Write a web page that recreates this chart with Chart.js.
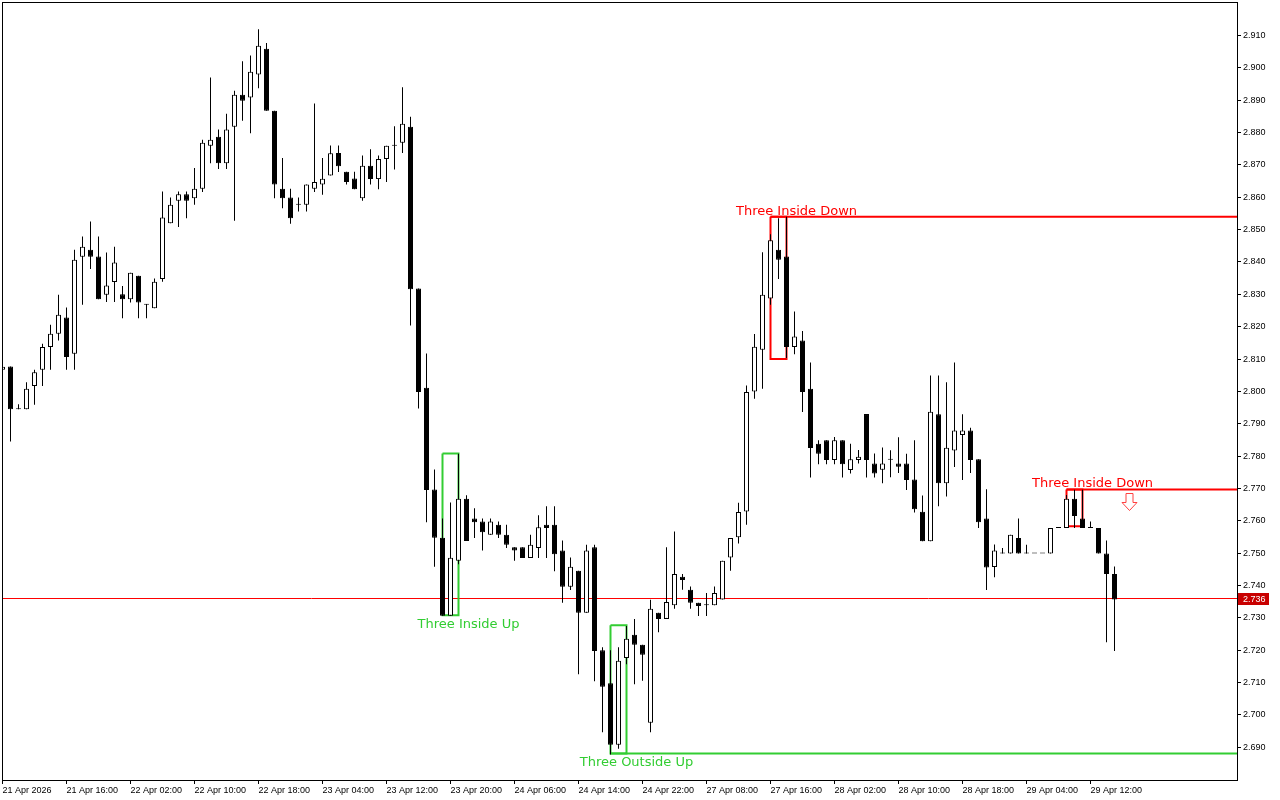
<!DOCTYPE html>
<html>
<head>
<meta charset="utf-8">
<title>H1 candlestick chart</title>
<script src="https://cdn.jsdelivr.net/npm/chart.js@4.4.1/dist/chart.umd.min.js"></script>
<style>
  html, body { margin: 0; padding: 0; background: #fff; }
  #chart { display: block; }
</style>
</head>
<body>
<canvas id="chart" width="1280" height="800"></canvas>
<script>
(function() {
    'use strict';

    // Hourly bars, index 0 = 21 Apr 2026 08:00
    const openPrices = [
        2.8067, 2.8077, 2.7945, 2.7945, 2.8017, 2.8067, 2.8137, 2.8178, 2.8228, 2.8116,
        2.8416, 2.8438, 2.8417, 2.8299, 2.8338, 2.8300, 2.8285, 2.8357, 2.8268, 2.8257,
        2.8347, 2.8520, 2.8589, 2.8609, 2.8597, 2.8626, 2.8759, 2.8787, 2.8705, 2.8818,
        2.8917, 2.8908, 2.8979, 2.9059, 2.8867, 2.8626, 2.8599, 2.8577, 2.8577, 2.8626,
        2.8639, 2.8667, 2.8737, 2.8679, 2.8658, 2.8597, 2.8697, 2.8656, 2.8718, 2.8759,
        2.8768, 2.8818, 2.8318, 2.8011, 2.7697, 2.7548, 2.7307, 2.7477, 2.7668, 2.7607,
        2.7598, 2.7557, 2.7588, 2.7557, 2.7518, 2.7518, 2.7485, 2.7516, 2.7588, 2.7588,
        2.7508, 2.7396, 2.7446, 2.7316, 2.7518, 2.7200, 2.7098, 2.6908, 2.7176, 2.7248,
        2.7217, 2.6976, 2.7316, 2.7297, 2.7339, 2.7427, 2.7387, 2.7347, 2.7339, 2.7339,
        2.7357, 2.7487, 2.7549, 2.7629, 2.8000, 2.8129, 2.8287, 2.8438, 2.8417, 2.8137,
        2.8157, 2.8008, 2.7838, 2.7849, 2.7788, 2.7849, 2.7757, 2.7788, 2.7930, 2.7777,
        2.7758, 2.7789, 2.7777, 2.7777, 2.7728, 2.7628, 2.7537, 2.7929, 2.7716, 2.7817,
        2.7865, 2.7879, 2.7790, 2.7607, 2.7457, 2.7499, 2.7499, 2.7547, 2.7499, 2.7499,
        2.7499, 2.7499, 2.7578, 2.7578, 2.7668, 2.7607, 2.7578, 2.7578, 2.7499, 2.7436
    ];
    const highPrices = [
        2.8080, 2.8077, 2.7960, 2.8028, 2.8067, 2.8147, 2.8206, 2.8299, 2.8259, 2.8438,
        2.8479, 2.8525, 2.8479, 2.8429, 2.8447, 2.8326, 2.8367, 2.8357, 2.8270, 2.8349,
        2.8618, 2.8599, 2.8618, 2.8618, 2.8690, 2.8778, 2.8970, 2.8809, 2.8858, 2.8929,
        2.9020, 2.9038, 2.9119, 2.9077, 2.8867, 2.8721, 2.8626, 2.8599, 2.8639, 2.8890,
        2.8721, 2.8760, 2.8760, 2.8679, 2.8679, 2.8729, 2.8748, 2.8729, 2.8759, 2.8819,
        2.8940, 2.8849, 2.8318, 2.8117, 2.7759, 2.7607, 2.7657, 2.7807, 2.7679, 2.7639,
        2.7607, 2.7607, 2.7598, 2.7588, 2.7518, 2.7518, 2.7557, 2.7617, 2.7645, 2.7645,
        2.7539, 2.7487, 2.7446, 2.7526, 2.7526, 2.7209, 2.7200, 2.7209, 2.7275, 2.7297,
        2.7217, 2.7356, 2.7316, 2.7518, 2.7567, 2.7436, 2.7397, 2.7347, 2.7377, 2.7397,
        2.7477, 2.7547, 2.7656, 2.8018, 2.8177, 2.8430, 2.8486, 2.8535, 2.8540, 2.8247,
        2.8187, 2.8089, 2.7849, 2.7849, 2.7859, 2.7849, 2.7838, 2.7819, 2.7930, 2.7808,
        2.7827, 2.7818, 2.7858, 2.7807, 2.7849, 2.7678, 2.8049, 2.8049, 2.8028, 2.8089,
        2.7929, 2.7888, 2.7790, 2.7698, 2.7527, 2.7516, 2.7557, 2.7607, 2.7526, 2.7499,
        2.7499, 2.7578, 2.7578, 2.7680, 2.7696, 2.7696, 2.7598, 2.7578, 2.7539, 2.7459
    ];
    const lowPrices = [
        2.8060, 2.7845, 2.7945, 2.7945, 2.7959, 2.8017, 2.8067, 2.8157, 2.8067, 2.8067,
        2.8268, 2.8378, 2.8285, 2.8276, 2.8276, 2.8226, 2.8275, 2.8226, 2.8226, 2.8257,
        2.8339, 2.8520, 2.8508, 2.8535, 2.8577, 2.8616, 2.8705, 2.8687, 2.8687, 2.8527,
        2.8836, 2.8798, 2.8937, 2.8867, 2.8597, 2.8566, 2.8518, 2.8556, 2.8556, 2.8616,
        2.8608, 2.8667, 2.8678, 2.8639, 2.8625, 2.8589, 2.8639, 2.8625, 2.8647, 2.8686,
        2.8737, 2.8204, 2.7947, 2.7596, 2.7458, 2.7307, 2.7307, 2.7466, 2.7538, 2.7547,
        2.7508, 2.7557, 2.7547, 2.7516, 2.7477, 2.7485, 2.7485, 2.7485, 2.7485, 2.7444,
        2.7347, 2.7386, 2.7126, 2.7316, 2.7104, 2.6947, 2.6878, 2.6896, 2.7157, 2.7095,
        2.7106, 2.6947, 2.7256, 2.7297, 2.7328, 2.7387, 2.7328, 2.7306, 2.7306, 2.7339,
        2.7357, 2.7446, 2.7530, 2.7588, 2.7977, 2.8008, 2.8268, 2.8347, 2.8103, 2.8115,
        2.7936, 2.7734, 2.7775, 2.7775, 2.7775, 2.7734, 2.7746, 2.7777, 2.7734, 2.7734,
        2.7716, 2.7735, 2.7748, 2.7695, 2.7626, 2.7537, 2.7537, 2.7645, 2.7675, 2.7766,
        2.7726, 2.7748, 2.7578, 2.7386, 2.7426, 2.7499, 2.7499, 2.7499, 2.7499, 2.7499,
        2.7499, 2.7499, 2.7578, 2.7578, 2.7578, 2.7578, 2.7578, 2.7499, 2.7225, 2.7198
    ];
    const closePrices = [
        2.8076, 2.7945, 2.7945, 2.8008, 2.8059, 2.8137, 2.8178, 2.8237, 2.8106, 2.8407,
        2.8447, 2.8416, 2.8285, 2.8327, 2.8398, 2.8285, 2.8367, 2.8275, 2.8268, 2.8339,
        2.8537, 2.8577, 2.8609, 2.8589, 2.8626, 2.8768, 2.8778, 2.8705, 2.8809, 2.8917,
        2.8898, 2.8988, 2.9068, 2.8867, 2.8639, 2.8597, 2.8535, 2.8577, 2.8639, 2.8647,
        2.8657, 2.8736, 2.8696, 2.8647, 2.8625, 2.8697, 2.8656, 2.8718, 2.8759, 2.8759,
        2.8827, 2.8316, 2.7998, 2.7695, 2.7548, 2.7307, 2.7486, 2.7668, 2.7538, 2.7596,
        2.7565, 2.7598, 2.7557, 2.7526, 2.7508, 2.7485, 2.7526, 2.7580, 2.7578, 2.7497,
        2.7396, 2.7458, 2.7316, 2.7508, 2.7198, 2.7087, 2.6908, 2.7168, 2.7236, 2.7217,
        2.7186, 2.7328, 2.7297, 2.7349, 2.7436, 2.7417, 2.7347, 2.7337, 2.7339, 2.7377,
        2.7477, 2.7547, 2.7627, 2.7998, 2.8138, 2.8299, 2.8467, 2.8407, 2.8137, 2.8170,
        2.7998, 2.7825, 2.7807, 2.7788, 2.7849, 2.7775, 2.7790, 2.7798, 2.7788, 2.7746,
        2.7777, 2.7789, 2.7767, 2.7726, 2.7636, 2.7537, 2.7937, 2.7716, 2.7826, 2.7879,
        2.7879, 2.7788, 2.7596, 2.7456, 2.7508, 2.7499, 2.7557, 2.7499, 2.7499, 2.7499,
        2.7499, 2.7578, 2.7578, 2.7668, 2.7615, 2.7578, 2.7578, 2.7499, 2.7436, 2.7357
    ];

    // Time axis labels, one every 8 bars
    const xTickIndex = [0, 8, 16, 24, 32, 40, 48, 56, 64, 72, 80, 88, 96, 104, 112, 120, 128, 136];
    const xTickLabels = [
        '21 Apr 2026', '21 Apr 16:00', '22 Apr 02:00', '22 Apr 10:00', '22 Apr 18:00',
        '23 Apr 04:00', '23 Apr 12:00', '23 Apr 20:00', '24 Apr 06:00', '24 Apr 14:00',
        '24 Apr 22:00', '27 Apr 08:00', '27 Apr 16:00', '28 Apr 02:00', '28 Apr 10:00',
        '28 Apr 18:00', '29 Apr 04:00', '29 Apr 12:00'
    ];

    // Price axis labels
    const yTickValues = [];
    for (let i = 0; i <= 22; i++) {
        yTickValues.push((2690 + i * 10) / 1000);
    }

    // Candle patterns
    const patternNames = ['Three Inside Down', 'Three Inside Up', 'Three Outside Up', 'Three Inside Down'];
    const patternFirst = [96, 55, 76, 133];
    const patternLast = [98, 57, 78, 135];
    const patternHigh = [2.854, 2.7808, 2.7277, 2.7697];
    const patternLow = [2.810, 2.7308, 2.6881, 2.7583];
    const patternBullish = [false, true, true, false];
    const patternHasLevel = [true, false, true, true];

    // Sell signal arrow and last price
    const arrowIndex = [140.8];
    const arrowPrice = [2.7685];
    const currentPrice = 2.736;

    const X_MIN = 0.0625;
    const X_MAX = 154.3125;
    const Y_MIN = 2.679913;
    const Y_MAX = 2.920024;

    const RED = '#ff0000';
    const GREEN = '#32cd32';
    const AXIS_FONT = { family: 'Liberation Sans', size: 9 };

    const bodies = [];
    const wicks = [];
    const bodyColors = [];
    for (let i = 0; i < openPrices.length; i++) {
        bodies.push({ x: i, y: [openPrices[i], closePrices[i]] });
        wicks.push({ x: i, y: [lowPrices[i], highPrices[i]] });
        bodyColors.push(closePrices[i] > openPrices[i] ? '#ffffff' : '#000000');
    }

    /**
     * Line datasets for the pattern boxes and their level lines
     */
    function patternDatasets() {
        const sets = [];
        for (let i = 0; i < patternNames.length; i++) {
            const color = patternBullish[i] ? GREEN : RED;
            const a = patternFirst[i];
            const b = patternLast[i];
            const hi = patternHigh[i];
            const lo = patternLow[i];
            sets.push({
                type: 'line',
                data: [{ x: a, y: hi }, { x: a, y: lo }, { x: b, y: lo }, { x: b, y: hi }, { x: a, y: hi }],
                borderColor: color,
                borderWidth: 2,
                pointRadius: 0,
                tension: 0,
                fill: false,
                order: 3
            });
            if (patternHasLevel[i]) {
                const level = patternBullish[i] ? lo : hi;
                sets.push({
                    type: 'line',
                    data: [{ x: a, y: level }, { x: X_MAX, y: level }],
                    borderColor: color,
                    borderWidth: 2,
                    pointRadius: 0,
                    fill: false,
                    order: 3
                });
            }
        }
        return sets;
    }

    // Frame, pattern names, arrow and the price tag
    const overlayPlugin = {
        id: 'overlay',
        afterDatasetsDraw(chart) {
            const ctx = chart.ctx;
            const xs = chart.scales.x;
            const ys = chart.scales.y;

            ctx.save();
            ctx.font = '13px "DejaVu Sans"';
            ctx.textAlign = 'center';
            ctx.textBaseline = 'alphabetic';
            for (let i = 0; i < patternNames.length; i++) {
                const cx = xs.getPixelForValue((patternFirst[i] + patternLast[i]) / 2) + 18;
                if (patternBullish[i]) {
                    ctx.fillStyle = GREEN;
                    ctx.fillText(patternNames[i], cx, ys.getPixelForValue(patternLow[i]) + 12.5);
                } else {
                    ctx.fillStyle = RED;
                    ctx.fillText(patternNames[i], cx, ys.getPixelForValue(patternHigh[i]) - 2);
                }
            }

            // hollow down arrow
            for (let i = 0; i < arrowIndex.length; i++) {
                const ax = Math.round(xs.getPixelForValue(arrowIndex[i])) + 0.5;
                const ay = Math.round(ys.getPixelForValue(arrowPrice[i])) + 0.5;
                ctx.beginPath();
                ctx.moveTo(ax - 3.5, ay);
                ctx.lineTo(ax + 3.5, ay);
                ctx.lineTo(ax + 3.5, ay + 9);
                ctx.lineTo(ax + 7.5, ay + 9);
                ctx.lineTo(ax, ay + 17);
                ctx.lineTo(ax - 7.5, ay + 9);
                ctx.lineTo(ax - 3.5, ay + 9);
                ctx.closePath();
                ctx.fillStyle = '#ffffff';
                ctx.fill();
                ctx.strokeStyle = '#ff4040';
                ctx.lineWidth = 1;
                ctx.stroke();
            }
            ctx.restore();
        },
        afterDraw(chart) {
            const ctx = chart.ctx;
            const area = chart.chartArea;
            const ys = chart.scales.y;

            ctx.save();
            ctx.strokeStyle = '#000000';
            ctx.lineWidth = 1;
            ctx.strokeRect(area.left - 0.5, area.top - 0.5, area.right - area.left + 1, area.bottom - area.top + 1);

            const py = ys.getPixelForValue(currentPrice);
            ctx.fillStyle = '#c80000';
            ctx.fillRect(area.right + 1, Math.round(py) - 6, 31, 12);
            ctx.fillStyle = '#ffffff';
            ctx.font = '9px "Liberation Sans"';
            ctx.textAlign = 'left';
            ctx.textBaseline = 'middle';
            ctx.fillText(currentPrice.toFixed(3), area.right + 6, Math.round(py) + 0.5);
            ctx.restore();
        }
    };

    const datasets = [
        {
            label: 'body',
            data: bodies,
            backgroundColor: bodyColors,
            borderColor: '#000000',
            borderWidth: 1,
            borderSkipped: false,
            barThickness: 5,
            minBarLength: 1,
            inflateAmount: 0,
            grouped: false,
            order: 1
        },
        {
            label: 'wick',
            data: wicks,
            backgroundColor: '#000000',
            borderWidth: 0,
            barThickness: 1,
            inflateAmount: 0,
            grouped: false,
            order: 2
        },
        {
            type: 'line',
            label: 'price',
            data: [{ x: X_MIN, y: currentPrice }, { x: X_MAX, y: currentPrice }],
            borderColor: RED,
            borderWidth: 1,
            pointRadius: 0,
            fill: false,
            order: 4
        }
    ].concat(patternDatasets());

    new Chart(document.getElementById('chart'), {
        type: 'bar',
        data: { datasets: datasets },
        options: {
            responsive: false,
            animation: false,
            events: [],
            layout: { padding: { left: 3, top: 3, right: 0, bottom: 0 } },
            plugins: {
                legend: { display: false },
                tooltip: { enabled: false }
            },
            scales: {
                x: {
                    type: 'linear',
                    min: X_MIN,
                    max: X_MAX,
                    offset: false,
                    border: { display: false },
                    grid: { drawOnChartArea: false, drawTicks: true, tickLength: 4, color: '#000000', offset: false },
                    ticks: {
                        autoSkip: false,
                        maxRotation: 0,
                        minRotation: 0,
                        align: 'start',
                        padding: 1,
                        color: '#000000',
                        font: AXIS_FONT,
                        callback: (v) => xTickLabels[xTickIndex.indexOf(v)]
                    },
                    afterBuildTicks: (scale) => {
                        scale.ticks = xTickIndex.map(v => ({ value: v }));
                    },
                    afterFit: (scale) => {
                        scale.height = 20;
                        scale.paddingLeft = 0;
                        scale.paddingRight = 0;
                    }
                },
                y: {
                    type: 'linear',
                    position: 'right',
                    min: Y_MIN,
                    max: Y_MAX,
                    border: { display: false },
                    grid: { drawOnChartArea: false, drawTicks: true, tickLength: 4, color: '#000000' },
                    ticks: {
                        autoSkip: false,
                        padding: 2,
                        color: '#000000',
                        font: AXIS_FONT,
                        callback: (v) => v.toFixed(3)
                    },
                    afterBuildTicks: (scale) => {
                        scale.ticks = yTickValues.map(v => ({ value: v }));
                    },
                    afterFit: (scale) => {
                        scale.width = 43;
                        scale.paddingTop = 0;
                        scale.paddingBottom = 0;
                    }
                }
            }
        },
        plugins: [overlayPlugin]
    });
})();
</script>
</body>
</html>
